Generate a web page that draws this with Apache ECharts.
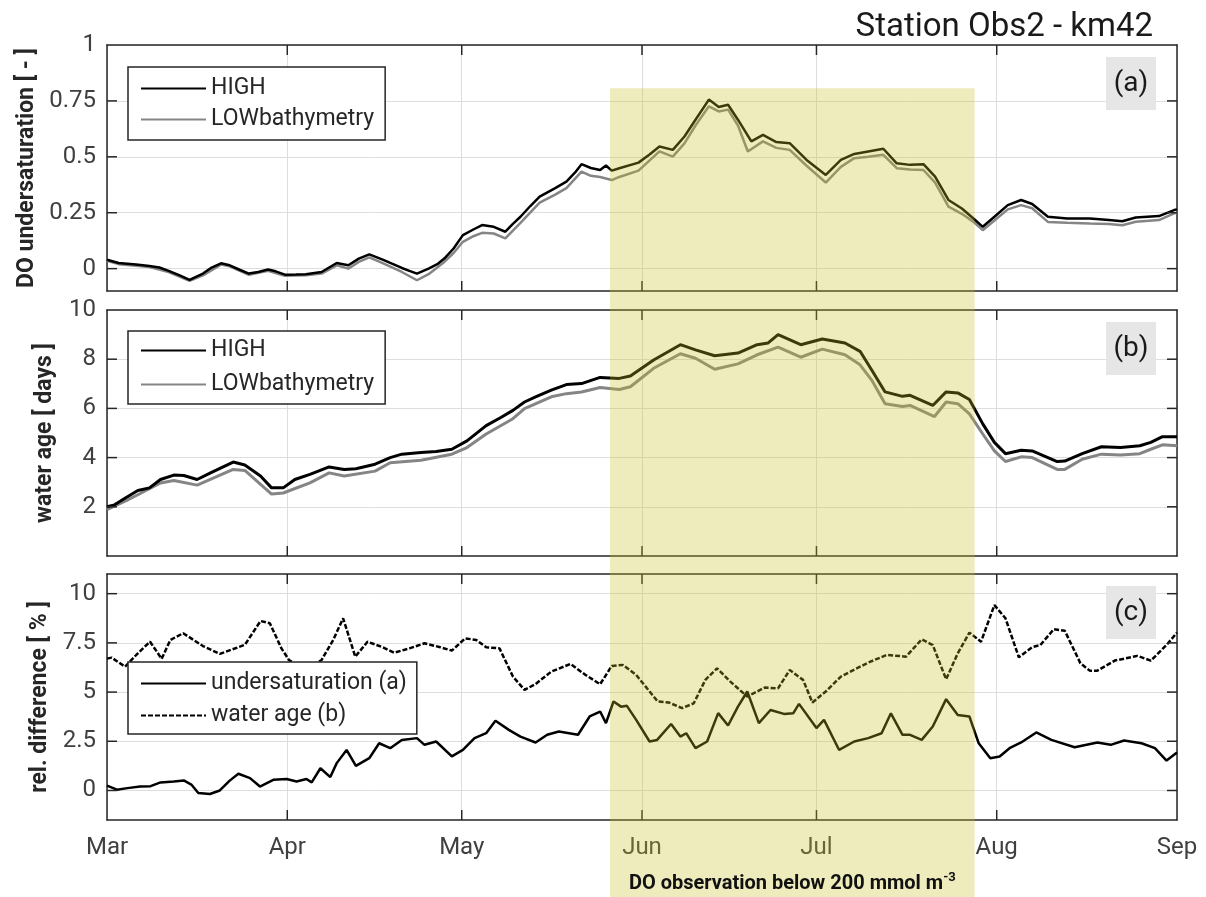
<!DOCTYPE html>
<html><head><meta charset="utf-8">
<script src="https://cdn.jsdelivr.net/npm/echarts@6/dist/echarts.min.js"></script>
<style>html,body{margin:0;padding:0;background:#fff}#c{width:1206px;height:897px}</style>
</head><body><div id="c"></div><script>
// x = days since 1 March
const monthStarts = [0, 31, 61, 92, 122, 153, 184];
const monthLabels = ['Mar', 'Apr', 'May', 'Jun', 'Jul', 'Aug', 'Sep'];
const monthTicks = [31, 61, 92, 122, 153];
const doLowStart = 86.5, doLowEnd = 149.2, shadeTopValue = 0.807;

// (a) DO undersaturation [-]
const undersatHigh = [[0,0.04],[2,0.025],[5,0.018],[7.3,0.012],[9,0.005],[10.6,-0.01],[12.5,-0.03],[14.2,-0.05],[16.5,-0.022],[18,0.005],[19.6,0.024],[21.1,0.015],[22.8,-0.005],[24.4,-0.022],[26,-0.015],[27.7,-0.004],[29,-0.012],[30.6,-0.027],[32.5,-0.026],[34.2,-0.025],[36.9,-0.015],[38.2,0.005],[39.5,0.025],[41.5,0.015],[43.3,0.045],[45.1,0.064],[47.4,0.04],[49,0.022],[50.7,0.003],[52,-0.01],[53.3,-0.022],[55.3,0.0],[56.8,0.02],[58,0.045],[59.6,0.09],[61.2,0.15],[63,0.175],[64.5,0.195],[66.5,0.187],[68.5,0.165],[69.8,0.2],[71.1,0.232],[72.8,0.28],[74.4,0.322],[77,0.359],[79,0.389],[80.5,0.43],[81.6,0.467],[83.2,0.45],[84.8,0.441],[85.8,0.461],[86.8,0.438],[88.1,0.449],[91.4,0.474],[93.3,0.51],[95,0.546],[97.3,0.531],[99.3,0.591],[101.2,0.666],[103.5,0.756],[105.2,0.723],[106.8,0.733],[108.5,0.666],[110.8,0.569],[112.8,0.598],[115.1,0.566],[117.4,0.561],[120.3,0.486],[123.6,0.419],[126.2,0.486],[128.5,0.513],[130.9,0.524],[133.5,0.536],[135.8,0.471],[138.1,0.464],[140.4,0.467],[142.4,0.411],[144.7,0.307],[147,0.269],[149,0.224],[150.6,0.187],[152.6,0.232],[154.9,0.284],[157.2,0.307],[159.1,0.289],[161.8,0.232],[165.1,0.224],[169,0.224],[172.3,0.217],[174.6,0.212],[176.9,0.229],[180.9,0.235],[183.5,0.262],[184,0.265]];
const undersatLow = [[0,0.035],[2,0.02],[5,0.013],[7.3,0.007],[10.6,-0.015],[14.2,-0.055],[16.5,-0.03],[19.6,0.018],[21.1,0.01],[24.4,-0.028],[27.7,-0.01],[30.6,-0.032],[34.2,-0.03],[36.9,-0.022],[39.5,0.015],[41.5,0.0],[43.3,0.03],[45.1,0.05],[47.4,0.025],[50.7,-0.015],[53.3,-0.052],[55.3,-0.025],[58,0.03],[59.6,0.07],[61.2,0.12],[63,0.145],[64.5,0.16],[66.5,0.157],[68.5,0.135],[71.1,0.205],[74.4,0.295],[77,0.33],[79,0.36],[81.6,0.434],[83.2,0.415],[84.8,0.41],[86.8,0.396],[88.1,0.41],[91.4,0.438],[95,0.524],[97.3,0.501],[99.3,0.56],[101.2,0.64],[103.5,0.726],[105.2,0.703],[106.8,0.711],[108.5,0.64],[110.2,0.524],[112.8,0.569],[115.1,0.54],[117.4,0.531],[120.3,0.46],[123.6,0.385],[126.2,0.455],[128.5,0.494],[130.9,0.5],[133.5,0.509],[135.8,0.449],[138.1,0.443],[140.4,0.441],[142.4,0.385],[144.7,0.277],[147,0.245],[149,0.209],[150.6,0.172],[152.6,0.215],[154.9,0.265],[157.2,0.284],[159.1,0.27],[161.8,0.209],[165.1,0.205],[169,0.202],[172.3,0.2],[174.6,0.194],[176.9,0.21],[180.9,0.217],[183.5,0.247],[184,0.25]];

// (b) water age [days]
const ageHigh = [[0,2.0],[1.3,2.08],[3.3,2.38],[5.3,2.66],[7.3,2.77],[9.2,3.11],[11.5,3.29],[13.2,3.27],[15.5,3.11],[17.8,3.38],[21.7,3.82],[23.7,3.7],[26.4,3.25],[28.3,2.77],[30.3,2.77],[32.3,3.11],[34.9,3.32],[38.2,3.62],[40.8,3.52],[42.8,3.55],[46.1,3.73],[48.7,4.0],[50.7,4.14],[54,4.21],[56.6,4.25],[59.3,4.34],[61.9,4.68],[65.2,5.3],[67.8,5.64],[69.8,5.92],[71.8,6.26],[73.7,6.47],[76.4,6.74],[79,6.97],[81.6,7.01],[84.8,7.26],[88.1,7.22],[90,7.32],[94,7.97],[98.6,8.59],[101.2,8.38],[104.5,8.14],[108.5,8.25],[111.8,8.59],[113.7,8.66],[115.4,9.0],[119.3,8.59],[123,8.82],[126.9,8.66],[129.5,8.32],[131.5,7.56],[133.8,6.67],[136.8,6.49],[138.1,6.53],[142,6.12],[144.3,6.67],[146.3,6.63],[148.3,6.36],[150.6,5.37],[152.6,4.62],[154.5,4.16],[157.2,4.3],[159.1,4.27],[163.4,3.84],[164.7,3.86],[167.7,4.16],[171,4.44],[174.3,4.41],[177.6,4.48],[179.5,4.62],[181.5,4.85],[184,4.85]];
const ageLow = [[0,1.88],[3.3,2.25],[5.3,2.49],[9.2,2.97],[11.5,3.07],[15.5,2.88],[21.7,3.52],[23.7,3.48],[28.3,2.52],[30.3,2.56],[34.9,2.97],[38.2,3.38],[40.8,3.25],[46.1,3.45],[48.7,3.79],[54,3.89],[59.3,4.14],[61.9,4.41],[65.2,4.96],[69.8,5.58],[71.8,5.99],[76.4,6.47],[79,6.6],[81.6,6.67],[84.8,6.85],[88.1,6.77],[90,6.88],[94,7.63],[98.6,8.22],[101.2,8.04],[104.5,7.59],[108.5,7.81],[111.8,8.18],[115.4,8.49],[119.3,8.08],[123,8.41],[126.9,8.18],[129.5,7.77],[131.5,7.15],[133.8,6.19],[136.8,6.08],[138.1,6.12],[142.3,5.67],[144.3,6.26],[146.3,6.19],[148.3,5.78],[150.6,4.96],[152.6,4.27],[154.5,3.84],[157.2,4.03],[159.1,4.0],[163.4,3.52],[164.7,3.52],[167.7,3.93],[171,4.14],[174.3,4.11],[177.6,4.16],[179.5,4.34],[181.5,4.52],[184,4.48]];

// (c) relative difference [%]
const relUndersat = [[0,0.25],[1.7,0.04],[3.5,0.12],[5.7,0.2],[7.5,0.22],[9.2,0.41],[11.5,0.46],[13.2,0.51],[14.5,0.3],[15.7,-0.13],[17.7,-0.18],[19.4,0.0],[21.1,0.5],[22.6,0.85],[24.6,0.63],[26.3,0.2],[28.6,0.54],[30.9,0.58],[32.6,0.46],[34.3,0.58],[35.2,0.41],[36.7,1.13],[38.4,0.68],[39.5,1.39],[41.2,2.06],[42.8,1.25],[45.1,1.64],[46.8,2.4],[48.7,2.15],[50.7,2.57],[53.3,2.66],[54.6,2.32],[56.6,2.49],[59.3,1.73],[61.2,2.06],[63.2,2.66],[65.2,2.91],[66.8,3.54],[69.1,3.08],[71.1,2.74],[73.7,2.44],[75.7,2.83],[77.7,3.0],[81,2.83],[83,3.76],[84.8,4.01],[85.8,3.42],[87.1,4.52],[88.4,4.26],[89.4,4.3],[91,3.59],[93.3,2.49],[94.6,2.57],[97,3.38],[98.6,2.74],[99.6,2.91],[101.2,2.15],[103.2,2.49],[105.1,3.93],[106.8,3.3],[108.5,4.26],[110.1,5.03],[112.1,3.42],[114.1,4.09],[116.4,3.89],[118,3.92],[119,4.4],[122,3.17],[123.3,3.59],[125.9,2.06],[128.5,2.49],[130.9,2.66],[133.2,2.91],[134.8,3.92],[136.8,2.83],[138.1,2.83],[140.1,2.57],[142,3.25],[144.3,4.64],[146.3,3.84],[148.3,3.76],[149.9,2.4],[151.9,1.64],[153.5,1.73],[155.2,2.15],[157.2,2.44],[159.8,2.95],[162.4,2.57],[166.4,2.2],[170.3,2.44],[172.6,2.32],[174.9,2.54],[177.9,2.4],[180.2,2.15],[182.2,1.52],[184,1.93]];
const relAge = [[0,6.7],[0.8,6.75],[3.1,6.29],[5.3,6.97],[7.4,7.56],[9.4,6.69],[10.9,7.65],[13.1,7.99],[16.5,7.34],[19.4,6.94],[23.7,7.4],[26.4,8.61],[28,8.5],[30,7.22],[31.3,6.63],[33,6.3],[35,6.3],[36.9,6.63],[38.9,7.65],[40.6,8.75],[42.7,6.8],[44.8,7.56],[47.4,7.28],[49.4,7.0],[52,7.22],[54.6,7.48],[57.3,7.28],[59.3,7.11],[61.6,7.73],[63.5,7.65],[65.2,7.28],[67.5,7.22],[69.8,5.79],[71.8,5.11],[73.7,5.41],[76.4,6.04],[79.7,6.43],[82.3,5.87],[84.8,5.4],[86.8,6.33],[88.7,6.38],[91,5.87],[94.7,4.52],[96.6,4.47],[98.9,4.18],[100.9,4.43],[102.9,5.62],[104.9,6.21],[107.2,5.53],[110.1,4.77],[113.1,5.23],[115.4,5.19],[117.4,6.12],[119.7,5.62],[121.3,4.47],[123.6,5.03],[126.2,5.79],[130.9,6.5],[134.1,6.89],[137.4,6.8],[140.1,7.68],[142,7.39],[144.3,5.65],[146.3,6.97],[148.3,8.02],[150.3,7.56],[152.6,9.42],[154.5,8.75],[156.8,6.77],[159.1,7.28],[160.5,7.39],[162.8,8.19],[164.7,8.12],[167.4,6.46],[169,6.09],[170.3,6.09],[173.3,6.6],[177.2,6.84],[179.5,6.6],[182.2,7.39],[184,8.02]];

const yTicksA = [0, 0.25, 0.5, 0.75];
const yLabelsA = [0, 0.25, 0.5, 0.75, 1];
const yTicksB = [2, 4, 6, 8];
const yLabelsB = [2, 4, 6, 8, 10];
const yTicksC = [0, 2.5, 5, 7.5, 10];

const FONT = 'Roboto';
const DARK = '#262626';
const chart = echarts.init(document.getElementById('c'), null, {renderer: 'canvas'});

const gridTops = [45, 310, 574];
const grids = gridTops.map(t => ({left: 107, right: 29, top: t, height: 246, show: false, containLabel: false}));

const xAxes = [], yAxes = [];
const yCfg = [
  {min: -0.1, max: 1, ticks: yTicksA, labels: yLabelsA, name: 'DO undersaturation [ - ]'},
  {min: 0, max: 10, ticks: yTicksB, labels: yLabelsB, name: 'water age [ days ]'},
  {min: -1.5, max: 11, ticks: yTicksC, labels: yTicksC, name: 'rel. difference [ % ]'}
];
const boxLine = {show: true, onZero: false, lineStyle: {color: DARK, width: 1.5}};
for (let g = 0; g < 3; g++) {
  const c = yCfg[g];
  xAxes.push({type: 'value', gridIndex: g, position: 'bottom', min: 0, max: 184,
    axisLine: boxLine,
    axisTick: {show: false, customValues: monthStarts},
    splitLine: {show: true, lineStyle: {color: '#dedede', width: 1}},
    axisLabel: {show: g === 2, customValues: monthStarts, margin: 16, fontFamily: FONT, fontSize: 24, color: '#404040',
      formatter: v => monthLabels[monthStarts.indexOf(v)] || ''}});
  xAxes.push({type: 'value', gridIndex: g, position: 'top', min: 0, max: 184,
    axisLine: boxLine, splitLine: {show: false}, axisLabel: {show: false}, axisTick: {show: false}});
  yAxes.push({type: 'value', gridIndex: g, position: 'left', min: c.min, max: c.max,
    axisLine: boxLine,
    axisTick: {show: false, customValues: c.labels},
    splitLine: {show: true, lineStyle: {color: '#dedede', width: 1}},
    axisLabel: {customValues: c.labels, margin: 11, fontFamily: FONT, fontSize: 24, color: '#404040'},
    name: c.name, nameLocation: 'middle', nameGap: 50,
    nameTextStyle: {fontFamily: FONT, fontSize: 23, fontWeight: 'bold', color: DARK}});
  yAxes.push({type: 'value', gridIndex: g, position: 'right', min: c.min, max: c.max,
    axisLine: boxLine, splitLine: {show: false}, axisLabel: {show: false}, axisTick: {show: false}});
}

function line(name, g, data, color, width, type) {
  return {name, type: 'line', xAxisIndex: g * 2, yAxisIndex: g * 2, data, symbol: 'none', showSymbol: false,
    lineStyle: {color, width, type: type || 'solid'}, itemStyle: {color}, z: 2, silent: true};
}

const legendBase = {orient: 'vertical', left: 128, itemWidth: 65, itemHeight: 14, selectedMode: false,
  backgroundColor: '#fff', borderColor: DARK, borderWidth: 1.5, borderRadius: 0,
  itemStyle: {opacity: 0},
  textStyle: {fontFamily: FONT, fontSize: 23, color: DARK}};

chart.setOption({
  animation: false,
  title: {text: 'Station Obs2 - km42', right: 53, top: 11, padding: 0,
    textStyle: {fontFamily: FONT, fontSize: 33, fontWeight: 'normal', color: '#1a1a1a'}},
  grid: grids, xAxis: xAxes, yAxis: yAxes,
  legend: [
    Object.assign({}, legendBase, {top: 67, itemGap: 8, padding: [10, 11, 9, 12], data: ['HIGH', 'LOWbathymetry']}),
    Object.assign({}, legendBase, {top: 331, itemGap: 11, padding: [8, 11, 8, 12], data: ['HIGH (b)', 'LOWbathymetry (b)'],
      formatter: n => n.replace(' (b)', '')}),
    Object.assign({}, legendBase, {top: 662, itemGap: 9, padding: [10, 10, 7, 12], data: ['undersaturation (a)', 'water age (b)']})
  ],
  series: [
    line('LOWbathymetry', 0, undersatLow, '#858585', 2.5),
    line('HIGH', 0, undersatHigh, '#000', 2.5),
    line('LOWbathymetry (b)', 1, ageLow, '#858585', 3),
    line('HIGH (b)', 1, ageHigh, '#000', 3),
    line('undersaturation (a)', 2, relUndersat, '#000', 2.5),
    line('water age (b)', 2, relAge, '#000', 2.5, [5, 2])
  ]
});

const graphics = [];
// inward MATLAB-style tick marks on all four sides, placed through the axes' own scales
const TL = 10;
const yTickSets = [yTicksA, yTicksB, yTicksC];
for (let g = 0; g < 3; g++) {
  const xi = 2 * g, yi = 2 * g, c = yCfg[g];
  const xl = chart.convertToPixel({xAxisIndex: xi}, 0), xr = chart.convertToPixel({xAxisIndex: xi}, 184);
  const yb = chart.convertToPixel({yAxisIndex: yi}, c.min), yt = chart.convertToPixel({yAxisIndex: yi}, c.max);
  monthTicks.forEach(v => {
    const px = chart.convertToPixel({xAxisIndex: xi}, v);
    graphics.push({type: 'line', z: 60, silent: true, shape: {x1: px, y1: yb, x2: px, y2: yb - TL}, style: {stroke: DARK, lineWidth: 1.5}});
    graphics.push({type: 'line', z: 60, silent: true, shape: {x1: px, y1: yt, x2: px, y2: yt + TL}, style: {stroke: DARK, lineWidth: 1.5}});
  });
  yTickSets[g].forEach(v => {
    const py = chart.convertToPixel({yAxisIndex: yi}, v);
    graphics.push({type: 'line', z: 60, silent: true, shape: {x1: xl, y1: py, x2: xl + TL, y2: py}, style: {stroke: DARK, lineWidth: 1.5}});
    graphics.push({type: 'line', z: 60, silent: true, shape: {x1: xr, y1: py, x2: xr - TL, y2: py}, style: {stroke: DARK, lineWidth: 1.5}});
  });
}

const x1 = chart.convertToPixel({xAxisIndex: 0}, doLowStart);
const x2 = chart.convertToPixel({xAxisIndex: 0}, doLowEnd);
const yTop = chart.convertToPixel({yAxisIndex: 0}, shadeTopValue);
const panelTags = ['(a)', '(b)', '(c)'];
panelTags.forEach((t, i) => {
  graphics.push({type: 'rect', left: 1106, top: gridTops[i] + 12, z: 50, shape: {width: 50, height: 53}, style: {fill: '#e6e6e6'}});
  graphics.push({type: 'text', x: 1131, y: gridTops[i] + 38.5, z: 51,
    style: {text: t, fontFamily: FONT, fontSize: 28, fill: '#1a1a1a', align: 'center', verticalAlign: 'middle'}});
});
graphics.push({type: 'rect', z: 100, shape: {x: x1, y: yTop, width: x2 - x1, height: 897 - yTop},
  style: {fill: 'rgba(200,188,38,0.3)'}, silent: true});
graphics.push({type: 'text', z: 101, x: (x1 + x2) / 2, y: 884,
  style: {text: '{b|DO observation below 200 mmol m}{s|-3}', align: 'center', verticalAlign: 'middle',
    rich: {b: {fontFamily: FONT, fontSize: 20, fontWeight: 'bold', fill: '#111'},
           s: {fontFamily: FONT, fontSize: 13, fontWeight: 'bold', fill: '#111', verticalAlign: 'top', padding: [0, 0, 13, 0]}}}});
chart.setOption({graphic: graphics});
</script></body></html>
